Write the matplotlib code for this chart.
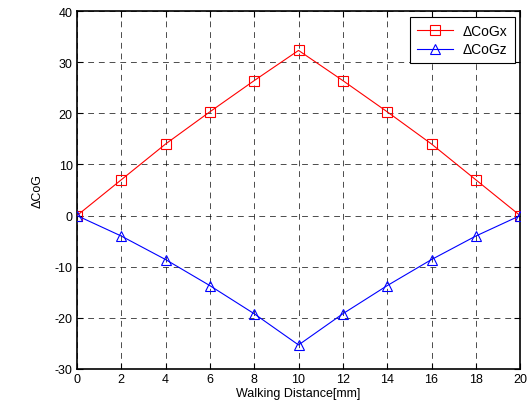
import numpy as np
import matplotlib
matplotlib.use("Agg")
import matplotlib.pyplot as plt

# walking distance [mm]
distance = [0, 2, 4, 6, 8, 10, 12, 14, 16, 18, 20]
# change of centre of gravity
cog_x = [0, 7.0, 14.0, 20.3, 26.4, 32.3, 26.4, 20.3, 14.0, 7.0, 0]
cog_z = [0, -4.0, -8.6, -13.7, -19.2, -25.3, -19.2, -13.7, -8.6, -4.0, 0]

plt.rcParams['font.family'] = ['Liberation Sans', 'DejaVu Sans']
plt.rcParams['axes.unicode_minus'] = False

fig = plt.figure(figsize=(5.27, 4.10), dpi=100, facecolor='white')
ax = fig.add_axes([0.146, 0.0976, 0.841, 0.873])

ax.plot(distance, cog_x, color='red', linewidth=0.8, marker='s', markersize=7,
        markerfacecolor='none', markeredgecolor='red', markeredgewidth=0.8,
        label='ΔCoGx', zorder=3)
ax.plot(distance, cog_z, color='blue', linewidth=0.8, marker='^', markersize=7,
        markerfacecolor='none', markeredgecolor='blue', markeredgewidth=0.8,
        label='ΔCoGz', zorder=3)

ax.set_xlim(0, 20)
ax.set_ylim(-30, 40)
ax.set_xticks(np.arange(0, 21, 2))
ax.set_yticks(np.arange(-30, 41, 10))

ax.grid(True, color='black', linestyle=(0, (6, 5)), linewidth=0.7, alpha=0.7)
ax.tick_params(direction='in', top=True, right=True, length=4, width=0.8,
               labelsize=9, pad=3)
for s in ax.spines.values():
    s.set_linewidth(1.2)

ax.set_xlabel('Walking Distance[mm]', fontsize=9, labelpad=1)
ax.set_ylabel('ΔCoG', fontsize=9, labelpad=8)

leg = ax.legend(loc='upper right', fontsize=10, fancybox=False, framealpha=1,
                edgecolor='black', handlelength=2.6, borderaxespad=0.4,
                labelspacing=0.35, borderpad=0.5, handletextpad=0.7,
                numpoints=1)
leg.get_frame().set_linewidth(0.8)

fig.savefig('out.png', dpi=100, facecolor='white')
